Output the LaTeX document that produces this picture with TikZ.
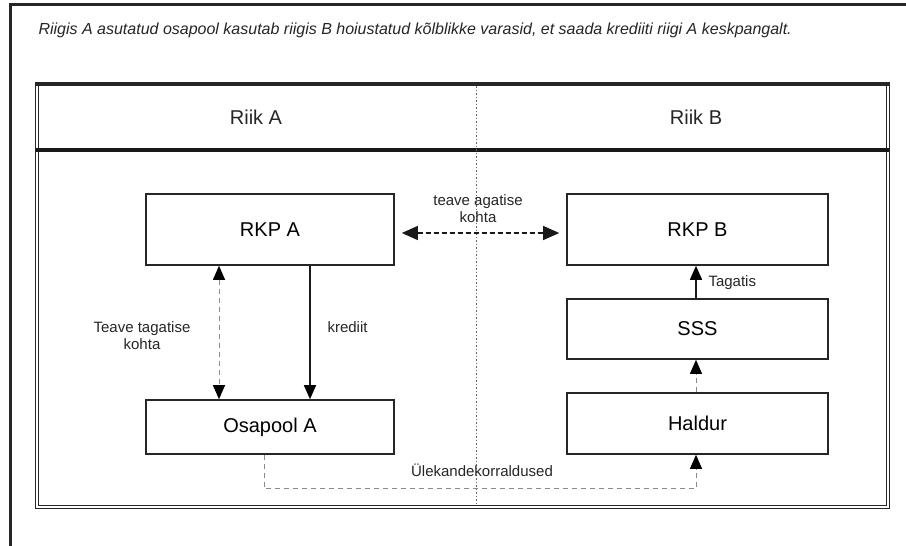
\documentclass[tikz,border=0pt]{standalone}
\usepackage{fontspec}
\setmainfont{Liberation Sans}
\usetikzlibrary{arrows.meta,calc}
\begin{document}
\begin{tikzpicture}[x=1pt,y=-1pt,
  box/.style={draw=black!85, line width=1.6pt, minimum width=#1, inner sep=0pt, font=\fontsize{20}{22}\selectfont},
  lbl/.style={font=\fontsize{15}{17}\selectfont, align=center, text=black!85},
  tip/.style={-{Triangle[width=12pt,length=14pt,black]}},
  tips/.style={{Triangle[width=12pt,length=14pt,black]}-{Triangle[width=12pt,length=14pt,black]}},
  softdash/.style={draw=black!45, line width=1pt, dash pattern=on 5pt off 4pt},
]
\useasboundingbox (0,0) rectangle (906,546);
\fill[white] (0,0) rectangle (906,546);

% outer frame
\draw[line width=3pt, black!85] (10,546) -- (10,4.5) -- (906,4.5);

% title
\node[anchor=west, font=\fontsize{16}{18}\selectfont\itshape, text=black!85] (title) at (35,30)
  {Riigis A asutatud osapool kasutab riigis B hoiustatud kõlblikke varasid, et saada krediiti riigi A keskpangalt.};

% country panel
\draw[draw=black!85, line width=0.8pt, double=white, double distance=1.6pt] (37,84) rectangle (888,507);
\draw[line width=3pt, black!85] (36,84) -- (889,84);
\draw[line width=3.5pt, black!90] (36,150) -- (889,150);
\draw[black!60, line width=0.6pt, dash pattern=on 1.5pt off 2pt] (476,86) -- (476,505);
\node[font=\fontsize{20}{22}\selectfont, text=black!85] (riika) at (256,117) {Riik A};
\node[font=\fontsize{20}{22}\selectfont, text=black!85] (riikb) at (696,117) {Riik B};

% boxes
\node[box=248pt, minimum height=71pt] (rkpa) at (270,229.5) {RKP A};
\node[box=261pt, minimum height=71pt] (rkpb) at (697.5,229.5) {RKP B};
\node[box=261pt, minimum height=60pt] (sss) at (697.5,329) {SSS};
\node[box=261pt, minimum height=61pt] (haldur) at (697.5,423.5) {Haldur};
\node[box=248pt, minimum height=54pt] (osa) at (270,427) {Osapool A};

% connectors
\draw[{Triangle[width=14pt,length=16pt]}-{Triangle[width=14pt,length=16pt]}, line width=1.2pt, dash pattern=on 5pt off 3pt, black!90, shorten <=7pt, shorten >=7pt]
  ($(rkpa.east)+(0,3.5)$) -- ($(rkpb.west)+(0,3.5)$);
\node[lbl] (lteave) at (478,209) {teave agatise\\kohta};

\draw[tips, softdash] ([xshift=-51pt]rkpa.south) -- ([xshift=-51pt]osa.north);
\node[lbl] (ltagatis) at (142,336) {Teave tagatise\\kohta};

\draw[tip, line width=1.4pt, black!90] ([xshift=40pt]rkpa.south) -- ([xshift=40pt]osa.north);
\node[lbl, anchor=west] (lkrediit) at (324,327) {krediit};

\draw[tip, line width=1.6pt, black!90] ([xshift=-1.5pt]sss.north) -- ([xshift=-1.5pt]rkpb.south);
\node[lbl, anchor=west] (lsss) at (705,283) {Tagatis};

\draw[tip, softdash] ([xshift=-1.5pt]haldur.north) -- ([xshift=-1.5pt]sss.south);

\draw[tip, softdash] ([xshift=-6pt]osa.south) -- ++(0,34) -| ([xshift=-1.5pt]haldur.south);
\node[lbl] (lulek) at (482,470) {Ülekandekorraldused};
\end{tikzpicture}
\end{document}
